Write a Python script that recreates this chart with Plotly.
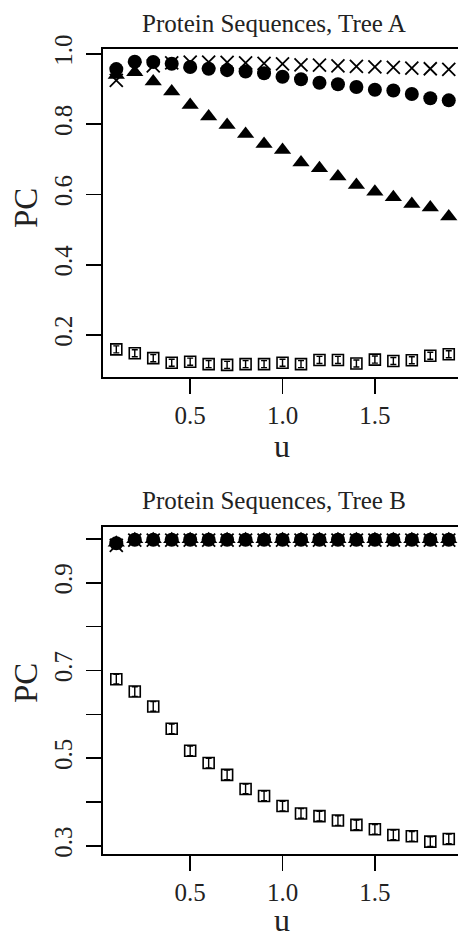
import plotly.graph_objects as go

# ---------------- data ----------------
u = [0.1, 0.2, 0.3, 0.4, 0.5, 0.6, 0.7, 0.8, 0.9, 1.0,
     1.1, 1.2, 1.3, 1.4, 1.5, 1.6, 1.7, 1.8, 1.9]

# Tree A
a_circle = [0.957, 0.978, 0.977, 0.972, 0.963, 0.958, 0.954, 0.950, 0.945, 0.935,
            0.928, 0.918, 0.914, 0.906, 0.898, 0.896, 0.886, 0.874, 0.868]
a_triangle = [0.940, 0.948, 0.922, 0.893, 0.855, 0.822, 0.798, 0.772, 0.744, 0.727,
              0.691, 0.675, 0.651, 0.627, 0.608, 0.592, 0.573, 0.563, 0.537]
a_cross = [0.925, 0.960, 0.966, 0.975, 0.977, 0.977, 0.976, 0.975, 0.973, 0.972,
           0.969, 0.968, 0.966, 0.965, 0.963, 0.962, 0.960, 0.958, 0.956]
a_square = [0.159, 0.148, 0.134, 0.121, 0.124, 0.117, 0.115, 0.117, 0.117, 0.121,
            0.117, 0.129, 0.129, 0.119, 0.130, 0.126, 0.128, 0.141, 0.145]
a_square_err = [0.010, 0.010, 0.010, 0.010, 0.010, 0.010, 0.010, 0.010, 0.010, 0.010,
                0.010, 0.010, 0.010, 0.010, 0.010, 0.010, 0.010, 0.010, 0.010]

# Tree B
b_circle = [0.990, 0.998, 0.998, 0.998, 0.998, 0.998, 0.998, 0.998, 0.998, 0.998,
            0.998, 0.998, 0.998, 0.998, 0.998, 0.998, 0.998, 0.998, 0.998]
b_triangle = [0.991, 0.999, 0.999, 0.999, 0.999, 0.999, 0.999, 0.999, 0.999, 0.999,
              0.999, 0.999, 0.999, 0.999, 0.999, 0.999, 0.999, 0.999, 0.999]
b_cross = [0.985, 0.997, 0.997, 0.997, 0.997, 0.997, 0.997, 0.997, 0.997, 0.997,
           0.997, 0.997, 0.997, 0.997, 0.997, 0.997, 0.997, 0.997, 0.997]
b_square = [0.680, 0.652, 0.618, 0.567, 0.517, 0.489, 0.462, 0.430, 0.414, 0.391,
            0.374, 0.368, 0.358, 0.348, 0.338, 0.325, 0.322, 0.310, 0.316]
b_square_err = [0.011, 0.011, 0.011, 0.011, 0.011, 0.011, 0.011, 0.011, 0.011, 0.011,
                0.011, 0.011, 0.011, 0.011, 0.011, 0.011, 0.011, 0.011, 0.011]

titles = ["Protein Sequences, Tree A", "Protein Sequences, Tree B"]
x_tickvals = [0.5, 1.0, 1.5]
x_ticktext = ["0.5", "1.0", "1.5"]
ya_tickvals = [0.2, 0.4, 0.6, 0.8, 1.0]
ya_ticktext = ["0.2", "0.4", "0.6", "0.8", "1.0"]
yb_tickvals = [0.3, 0.4, 0.5, 0.6, 0.7, 0.8, 0.9, 1.0]
yb_ticktext = ["0.3", "", "0.5", "", "0.7", "", "0.9", ""]

# ---------------- figure ----------------
W, H = 458, 933
FONT = "Liberation Serif"
fig = go.Figure()


def add_panel(xa, ya, circ, tri, crs, sq, sq_err):
    fig.add_trace(go.Scatter(
        x=u, y=sq, xaxis=xa, yaxis=ya, mode="markers",
        marker=dict(symbol="square-open", size=11, color="black",
                    line=dict(width=1.6, color="black")),
        error_y=dict(type="data", array=sq_err, visible=True,
                     color="black", thickness=1.4, width=3),
        showlegend=False, cliponaxis=False))
    fig.add_trace(go.Scatter(
        x=u, y=tri, xaxis=xa, yaxis=ya, mode="markers",
        marker=dict(symbol="triangle-up", size=15, color="black"),
        showlegend=False, cliponaxis=False))
    fig.add_trace(go.Scatter(
        x=u, y=circ, xaxis=xa, yaxis=ya, mode="markers",
        marker=dict(symbol="circle", size=14, color="black"),
        showlegend=False, cliponaxis=False))
    fig.add_trace(go.Scatter(
        x=u, y=crs, xaxis=xa, yaxis=ya, mode="markers",
        marker=dict(symbol="x-thin-open", size=13, color="black",
                    line=dict(width=1.8, color="black")),
        showlegend=False, cliponaxis=False))


add_panel("x", "y", a_circle, a_triangle, a_cross, a_square, a_square_err)
add_panel("x2", "y2", b_circle, b_triangle, b_cross, b_square, b_square_err)

L = 103  # left pixel of the plot box
xr = [0.028, 0.028 + (W - L) / 184.7]

common_x = dict(range=xr, showgrid=False, zeroline=False, showline=True,
                linecolor="black", linewidth=1.6, mirror=True, automargin=False,
                ticks="outside", ticklen=15, tickwidth=1.6, tickcolor="black",
                tickvals=x_tickvals, ticktext=x_ticktext,
                tickfont=dict(family=FONT, size=25, color="#222"),
                ticklabelstandoff=0)
common_y = dict(showgrid=False, zeroline=False, showline=True, automargin=False,
                linecolor="black", linewidth=1.6, mirror=False,
                ticks="outside", ticklen=15, tickwidth=1.6, tickcolor="black",
                tickangle=-90,
                tickfont=dict(family=FONT, size=25, color="#222"),
                ticklabelstandoff=4)


def dom(top_px, bot_px):
    return [1 - bot_px / H, 1 - top_px / H]


fig.update_layout(
    template="none",
    width=W, height=H,
    margin=dict(l=L, r=0, t=0, b=0, pad=0),
    paper_bgcolor="white", plot_bgcolor="white",
    hovermode=False,
    xaxis=dict(common_x, domain=[0, 1], anchor="y"),
    yaxis=dict(common_y, domain=dom(49, 377), range=[0.0804, 1.0142],
               tickvals=ya_tickvals, ticktext=ya_ticktext, anchor="x"),
    xaxis2=dict(common_x, domain=[0, 1], anchor="y2"),
    yaxis2=dict(common_y, domain=dom(527, 854.3), range=[0.281, 1.027],
                tickvals=yb_tickvals, ticktext=yb_ticktext, anchor="x2"),
)

PW = W - L


def px_x(p):
    return (p - L) / PW


def px_y(p):
    return 1 - p / H


ann = []
for i, (ty, uy, pcy) in enumerate([(23, 446, 208), (501, 920, 683)]):
    ann.append(dict(text=titles[i], x=px_x(274), y=px_y(ty), xref="paper", yref="paper",
                    xanchor="center", yanchor="middle", showarrow=False,
                    font=dict(family=FONT, size=25, color="#222")))
    ann.append(dict(text="u", x=px_x(282), y=px_y(uy), xref="paper", yref="paper",
                    xanchor="center", yanchor="middle", showarrow=False,
                    font=dict(family=FONT, size=32, color="#222")))
    ann.append(dict(text="PC", x=px_x(26), y=px_y(pcy), xref="paper", yref="paper",
                    xanchor="center", yanchor="middle", showarrow=False, textangle=-90,
                    font=dict(family=FONT, size=33, color="#222")))
fig.update_layout(annotations=ann)

# remove the default page margin so the figure fills the 458x933 window exactly
fig.write_html("out.html",
               config={"displayModeBar": False, "staticPlot": True},
               post_script="document.body.style.margin='0';document.body.style.padding='0';")
